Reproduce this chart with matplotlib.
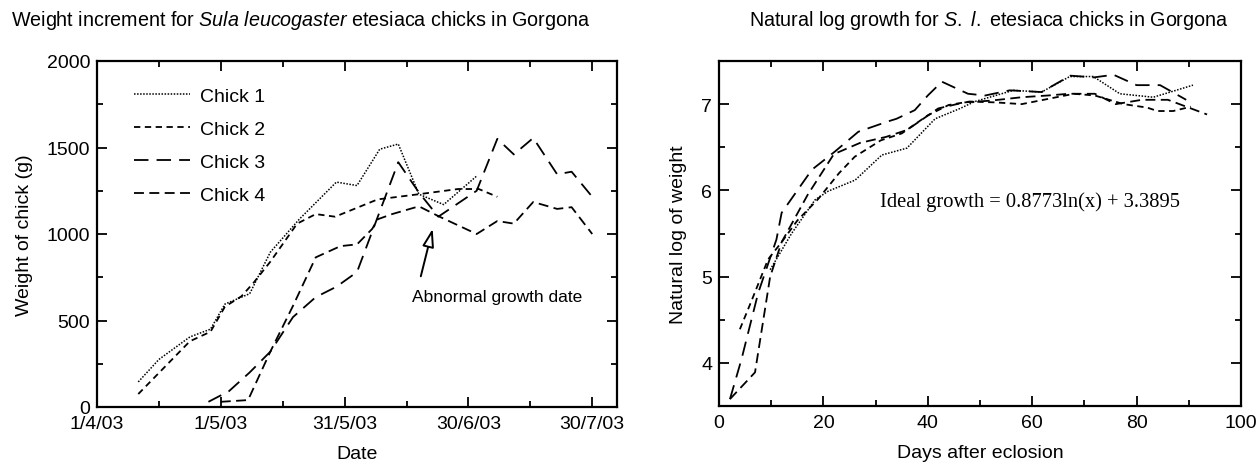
import matplotlib
matplotlib.use("Agg")
import matplotlib.pyplot as plt
from matplotlib.ticker import MultipleLocator

plt.rcParams['font.family'] = ['Liberation Sans', 'DejaVu Sans']
plt.rcParams['mathtext.fontset'] = 'custom'
plt.rcParams['mathtext.rm'] = 'Liberation Sans'
plt.rcParams['mathtext.it'] = 'Liberation Sans:italic'

# --- left panel: weight (g) against date, x = days since 1/4/03
c1_day = [10, 15, 22.5, 27.5, 31, 37, 42, 49, 58, 63, 68.5, 73, 78, 84, 92]
c1_g = [145, 275, 405, 450, 595, 655, 895, 1085, 1300, 1280, 1490, 1520, 1230, 1170, 1335]

c2_day = [10, 22.5, 27.5, 31, 35, 38, 42, 48.5, 53, 57.7, 68, 78, 87.5, 92.5, 97]
c2_g = [75, 380, 435, 580, 640, 720, 840, 1060, 1115, 1100, 1200, 1230, 1260, 1260, 1215]

c3_day = [27, 32, 37, 42, 47.5, 53, 58, 63, 73, 78, 82.7, 92, 97, 101, 105.7, 111.5, 115, 120]
c3_g = [30, 92, 200, 320, 520, 635, 695, 780, 1415, 1240, 1100, 1250, 1550, 1460, 1555, 1345, 1360, 1215]

c4_day = [30, 36.6, 42, 47.5, 53, 59, 63, 66.7, 68, 71.5, 78, 83, 92, 97, 101, 105.7, 111.5, 115, 120]
c4_g = [30, 40, 320, 585, 865, 930, 940, 1030, 1085, 1115, 1160, 1100, 1000, 1075, 1060, 1185, 1145, 1155, 1000]

date_ticks = [0, 30, 60, 90, 120]
date_labels = ['1/4/03', '1/5/03', '31/5/03', '30/6/03', '30/7/03']

# --- right panel: ln(weight) against days after eclosion
r1_x = [9.8, 13.9, 18.4, 20.9, 26.1, 31.2, 36, 41.4, 46.2, 49, 56.4, 61.8, 67.2, 71.7, 76.8, 83.2, 90.8]
r1_y = [5.08, 5.5, 5.89, 5.99, 6.12, 6.41, 6.49, 6.83, 6.95, 7.03, 7.16, 7.14, 7.32, 7.32, 7.12, 7.08, 7.22]

r2_x = [4, 6.3, 9.4, 12, 15, 19, 23, 26, 31, 35, 40, 44, 48, 53, 58, 63, 68, 72, 77.5, 82, 84, 87, 90.4]
r2_y = [4.39, 4.73, 5.2, 5.4, 5.65, 5.9, 6.2, 6.39, 6.58, 6.66, 6.87, 6.99, 7.03, 7.02, 7.0, 7.06, 7.12,
        7.1, 7.0, 6.96, 6.92, 6.92, 6.97]

r3_x = [2.1, 4.3, 7.5, 11, 12, 17.8, 22.2, 26.7, 32.4, 34, 37.5, 40, 42.7, 47.7, 51, 55.7, 61.8, 67.3,
        71.8, 75.6, 80, 84.5, 89.5]
r3_y = [3.58, 4.04, 4.81, 5.43, 5.74, 6.24, 6.45, 6.68, 6.8, 6.83, 6.93, 7.1, 7.26, 7.12, 7.1, 7.16,
        7.14, 7.33, 7.31, 7.34, 7.22, 7.22, 7.05]

r4_x = [2.1, 6.9, 9.8, 12, 17, 22, 27, 32, 36, 42, 47, 52, 58, 63, 67, 72, 76, 81, 86, 93.5]
r4_y = [3.58, 3.89, 5.0, 5.4, 5.95, 6.42, 6.55, 6.62, 6.7, 6.95, 7.02, 7.04, 7.08, 7.1, 7.12, 7.12,
        7.0, 7.05, 7.05, 6.88]

fit_text = 'Ideal growth = 0.8773ln(x) + 3.3895'

styles = [
    dict(dashes=(1, 1), lw=1.1),
    dict(dashes=(3.5, 2.5), lw=1.3),
    dict(dashes=(8, 4.5), lw=1.3),
    dict(dashes=(5.5, 3), lw=1.3),
]
names = ['Chick 1', 'Chick 2', 'Chick 3', 'Chick 4']

fig = plt.figure(figsize=(12.56, 4.64), dpi=100)
ax1 = fig.add_axes([97 / 1256, 1 - 408 / 464, 520 / 1256, 346 / 464])
ax2 = fig.add_axes([719 / 1256, 1 - 407 / 464, 522 / 1256, 345 / 464])


def style_axes(ax):
    for s in ax.spines.values():
        s.set_linewidth(1.6)
    ax.tick_params(which='both', direction='in', top=True, right=True, labelsize=14, width=1.3)
    ax.tick_params(which='major', length=7)
    ax.tick_params(which='minor', length=4.5)
    ax.tick_params(axis='x', pad=6)
    ax.tick_params(axis='y', pad=5)


# left
for d, g, st, nm in zip([c1_day, c2_day, c3_day, c4_day], [c1_g, c2_g, c3_g, c4_g], styles, names):
    ax1.plot(d, g, color='black', label=nm, **st)
ax1.set_xlim(0, 126)
ax1.set_ylim(0, 2000)
ax1.set_xticks(date_ticks)
ax1.set_xticklabels(date_labels)
ax1.xaxis.set_minor_locator(MultipleLocator(15))
ax1.yaxis.set_major_locator(MultipleLocator(500))
ax1.yaxis.set_minor_locator(MultipleLocator(250))
style_axes(ax1)
ax1.set_xlabel('Date', fontsize=14, labelpad=9)
ax1.set_ylabel('Weight of chick (g)', fontsize=14, labelpad=10)
ax1.legend(loc='upper left', bbox_to_anchor=(0.037, 0.975), frameon=False, fontsize=14,
           handlelength=2.9, labelspacing=0.8, handletextpad=0.5)
ax1.annotate('', xy=(81.5, 1046), xytext=(78.3, 740),
             arrowprops=dict(arrowstyle='-|>,head_length=1.1,head_width=0.35',
                             fc='white', ec='black', lw=1.4))
ax1.text(76.4, 636, 'Abnormal growth date', fontsize=12.5, ha='left', va='center')
fig.text(301 / 1256, 1 - 20 / 464, 'Weight increment for $\\it{Sula\\ leucogaster}$ etesiaca chicks in Gorgona',
         ha='center', va='center', fontsize=14.2)

# right
for x, y, st in zip([r1_x, r2_x, r3_x, r4_x], [r1_y, r2_y, r3_y, r4_y], styles):
    ax2.plot(x, y, color='black', **st)
ax2.set_xlim(0, 100)
ax2.set_ylim(3.5, 7.5)
ax2.xaxis.set_major_locator(MultipleLocator(20))
ax2.xaxis.set_minor_locator(MultipleLocator(10))
ax2.yaxis.set_major_locator(MultipleLocator(1))
ax2.yaxis.set_minor_locator(MultipleLocator(0.5))
style_axes(ax2)
ax2.set_xlabel('Days after eclosion', fontsize=14, labelpad=9)
ax2.set_ylabel('Natural log of weight', fontsize=14, labelpad=10)
ax2.text(30.8, 5.87, fit_text, fontsize=14.8, family='Liberation Serif', ha='left', va='center')
fig.text(989 / 1256, 1 - 20 / 464, 'Natural log growth for $\\it{S.\\ l.}$ etesiaca chicks in Gorgona',
         ha='center', va='center', fontsize=14.2)

fig.savefig('out.png', dpi=100)
